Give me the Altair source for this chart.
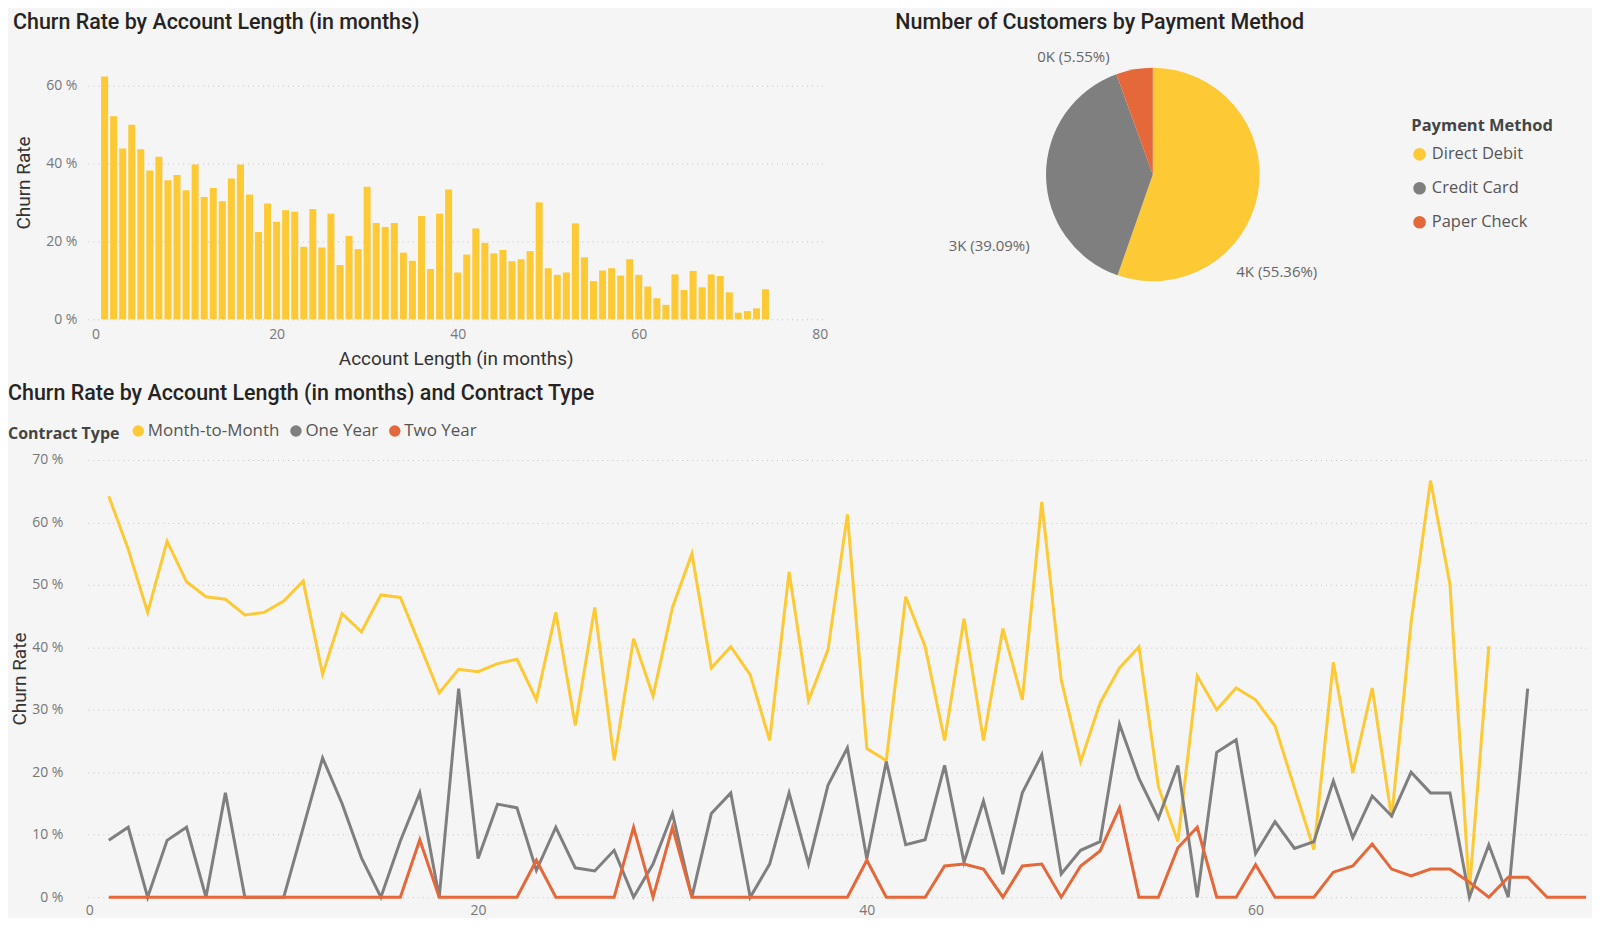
import altair as alt
import pandas as pd

# ---------------- data ----------------
bar_months = list(range(1, 75))
bar_churn_pct = [62.3, 52.1, 43.8, 49.9, 43.6, 38.2, 41.7, 35.7, 37.0, 33.1,
                 39.7, 31.4, 33.7, 30.3, 36.1, 39.7, 32.0, 22.4, 29.7, 25.0,
                 28.0, 27.6, 18.6, 28.3, 18.4, 27.1, 13.9, 21.4, 18.0, 34.0,
                 24.7, 23.7, 24.7, 17.1, 15.0, 26.5, 12.9, 27.1, 33.3, 12.0,
                 16.6, 23.3, 19.6, 16.9, 17.8, 14.9, 15.4, 17.5, 30.0, 13.1,
                 11.4, 12.0, 24.6, 15.9, 9.8, 12.5, 13.1, 11.2, 15.4, 11.4,
                 8.4, 5.4, 3.7, 11.5, 7.5, 12.4, 8.2, 11.5, 11.1, 6.9,
                 1.7, 2.1, 2.8, 7.7]

contract_types = ["Month-to-Month", "One Year", "Two Year"]
# churn rate (%) for account length 1, 2, 3, ...
mtm_pct = [64.2, 55.7, 45.6, 57.0, 50.5, 48.1, 47.7, 45.2, 45.6, 47.4,
           50.6, 35.7, 45.4, 42.5, 48.4, 48.0, 40.4, 32.7, 36.5, 36.1,
           37.4, 38.1, 31.6, 45.6, 27.5, 46.4, 21.9, 41.4, 32.2, 46.4,
           55.0, 36.7, 40.1, 35.6, 25.1, 52.1, 31.5, 39.6, 61.3, 23.8,
           21.9, 48.1, 40.1, 25.1, 44.6, 25.1, 43.0, 31.6, 63.3, 34.8,
           21.7, 31.1, 36.7, 40.1, 17.7, 8.9, 35.4, 30.0, 33.5, 31.6,
           27.4, 17.5, 7.6, 37.6, 19.9, 33.5, 12.7, 44.0, 66.7, 50.1,
           1.0, 40.2]
one_year_pct = [9.1, 11.2, 0, 9.1, 11.2, 0, 16.7, 0, 0, 0,
                11.1, 22.3, 15.0, 6.3, 0, 9.0, 16.7, 0, 33.4, 6.2,
                14.9, 14.3, 4.3, 11.2, 4.7, 4.2, 7.5, 0, 5.3, 13.4,
                0, 13.4, 16.7, 0, 5.3, 16.7, 5.3, 17.9, 23.9, 6.1,
                21.7, 8.4, 9.2, 21.1, 5.6, 15.4, 3.7, 16.7, 22.8, 3.7,
                7.5, 8.9, 27.7, 19.0, 12.6, 21.1, 0, 23.2, 25.2, 7.0,
                12.1, 7.8, 8.9, 18.6, 9.5, 16.2, 13.0, 20.0, 16.7, 16.7,
                0, 8.4, 0, 33.4]
two_year_pct = [0, 0, 0, 0, 0, 0, 0, 0, 0, 0,
                0, 0, 0, 0, 0, 0, 9.2, 0, 0, 0,
                0, 0, 5.9, 0, 0, 0, 0, 11.2, 0, 11.2,
                0, 0, 0, 0, 0, 0, 0, 0, 0, 5.9,
                0, 0, 0, 5.0, 5.3, 4.5, 0, 5.0, 5.3, 0,
                5.0, 7.4, 14.3, 0, 0, 7.9, 11.2, 0, 0, 5.2,
                0, 0, 0, 4.0, 5.0, 8.5, 4.5, 3.4, 4.5, 4.5,
                2.4, 0, 3.2, 3.2, 0, 0, 0]

pay_methods = ["Direct Debit", "Credit Card", "Paper Check"]
pay_share_pct = [55.36, 39.09, 5.55]
pay_labels = ["4K (55.36%)", "3K (39.09%)", "0K (5.55%)"]

# ---------------- style ----------------
BG = "#f5f5f5"
YEL = "#FDC935"
GRY = "#7F7F7F"
ORG = "#E4683A"
TFONT = "Roboto"
LFONT = "Open Sans"
PCT = "format(datum.value * 100, '.0f') + ' %'"
LEFT = 80  # distance from chart's left edge to the plot areas

# ---------------- tables ----------------
bar_df = pd.DataFrame({"month": bar_months, "churn": [v / 100 for v in bar_churn_pct]})

rows = []
for name, series in zip(contract_types, [mtm_pct, one_year_pct, two_year_pct]):
    for i, v in enumerate(series):
        rows.append({"month": i + 1, "churn": v / 100, "contract": name})
line_df = pd.DataFrame(rows)

pie_rows = []
cum = 0.0
for k, (m, s, lab) in enumerate(zip(pay_methods, pay_share_pct, pay_labels)):
    pie_rows.append({"method": m, "share": s, "label": lab, "order": k, "mid": cum + s / 2})
    cum += s
pie_df = pd.DataFrame(pie_rows)


def title(text, offset, dx):
    return alt.TitleParams(text, anchor="start", frame="group", dx=dx, font=TFONT,
                           fontSize=21.5, fontWeight=500, color="#252423", offset=offset)


# ---------------- bar chart ----------------
bar = alt.Chart(bar_df).mark_bar(color=YEL, size=7).encode(
    x=alt.X("month:Q", title="Account Length (in months)",
            scale=alt.Scale(domain=[-0.85, 80.4], nice=False, zero=False, padding=0),
            axis=alt.Axis(values=[0, 20, 40, 60, 80], grid=False, ticks=False, domain=False,
                          labelPadding=8, titlePadding=8)),
    y=alt.Y("churn:Q", title="Churn Rate",
            scale=alt.Scale(domain=[0, 0.63], nice=False),
            axis=alt.Axis(values=[0, 0.2, 0.4, 0.6], labelExpr=PCT, grid=True, ticks=False,
                          domain=False, labelPadding=11, titleX=16 - LEFT, titleY=109,
                          titleBaseline="middle")),
).properties(width=737, height=246,
             title=title("Churn Rate by Account Length (in months)", 40, 5 - LEFT))

# ---------------- pie chart ----------------
pie_base = alt.Chart(pie_df)
arcs = pie_base.mark_arc(outerRadius=107).encode(
    theta=alt.Theta("share:Q", stack=True, scale=alt.Scale(domain=[0, 100])),
    order=alt.Order("order:Q"),
    color=alt.Color("method:N", sort=pay_methods,
                    scale=alt.Scale(domain=pay_methods, range=[YEL, GRY, ORG]),
                    legend=alt.Legend(title="Payment Method", orient="none", legendX=517, legendY=44,
                                      symbolType="circle", symbolSize=160, rowPadding=17,
                                      titleFont=LFONT, titleFontSize=16.5, titleFontWeight="bold",
                                      titleColor="#444", labelFont=LFONT, labelFontSize=16.5,
                                      labelColor="#555", titlePadding=12, labelOffset=4)),
)


def pie_label(method, dx, dy):
    return pie_base.transform_filter(alt.datum.method == method).mark_text(
        radius=130, dx=dx, dy=dy, font=LFONT, fontSize=15, color="#666"
    ).encode(theta=alt.Theta("mid:Q", stack=False, scale=alt.Scale(domain=[0, 100])),
             text="label:N")


pie = alt.layer(
    arcs,
    pie_label("Paper Check", -57, 10),
    pie_label("Credit Card", -34, 71),
    pie_label("Direct Debit", -4, 76),
).properties(width=516, height=202,
             title=title("Number of Customers by Payment Method", 16, 0))

# ---------------- line chart ----------------
line = alt.Chart(line_df).mark_line(strokeWidth=3).encode(
    x=alt.X("month:Q", title=None,
            scale=alt.Scale(domain=[-0.077, 77.0], nice=False, zero=False),
            axis=alt.Axis(values=[0, 20, 40, 60], grid=False, ticks=False, domain=False,
                          labelPadding=6)),
    y=alt.Y("churn:Q", title="Churn Rate",
            scale=alt.Scale(domain=[0, 0.7], nice=False),
            axis=alt.Axis(values=[0, 0.1, 0.2, 0.3, 0.4, 0.5, 0.6, 0.7], labelExpr=PCT, grid=True,
                          ticks=False, domain=False, labelPadding=25, titleX=12 - LEFT,
                          titleBaseline="middle")),
    color=alt.Color("contract:N", sort=contract_types,
                    scale=alt.Scale(domain=contract_types, range=[YEL, GRY, ORG]),
                    legend=alt.Legend(title="Contract Type", orient="none", direction="horizontal",
                                      titleOrient="left", legendX=-LEFT, legendY=-38,
                                      symbolType="circle", symbolSize=30, symbolStrokeWidth=6,
                                      titleFont=LFONT, titleFontSize=16, titleFontWeight="bold",
                                      titleColor="#444", labelFont=LFONT, labelFontSize=17,
                                      labelColor="#555", columnPadding=0, labelOffset=1,
                                      titlePadding=10)),
).properties(width=1501, height=438,
             title=title("Churn Rate by Account Length (in months) and Contract Type", 18, -LEFT))

chart = alt.vconcat(
    alt.hconcat(bar, pie, spacing=72, bounds="flush").resolve_scale(color="independent"),
    line,
    spacing=387,
    bounds="flush",
).resolve_scale(color="independent").properties(
    padding={"top": 3, "left": 0, "right": 0, "bottom": 0}
).configure(
    background=BG
).configure_view(strokeWidth=0).configure_axis(
    labelFont=LFONT, labelFontSize=14, labelColor="#777",
    titleFont=TFONT, titleFontSize=19, titleColor="#333", titleFontWeight="normal",
    gridColor="#c4c4c4", gridDash=[1, 4], gridWidth=1,
)

chart.save("out.html", embed_options={"renderer": "svg", "actions": False})
